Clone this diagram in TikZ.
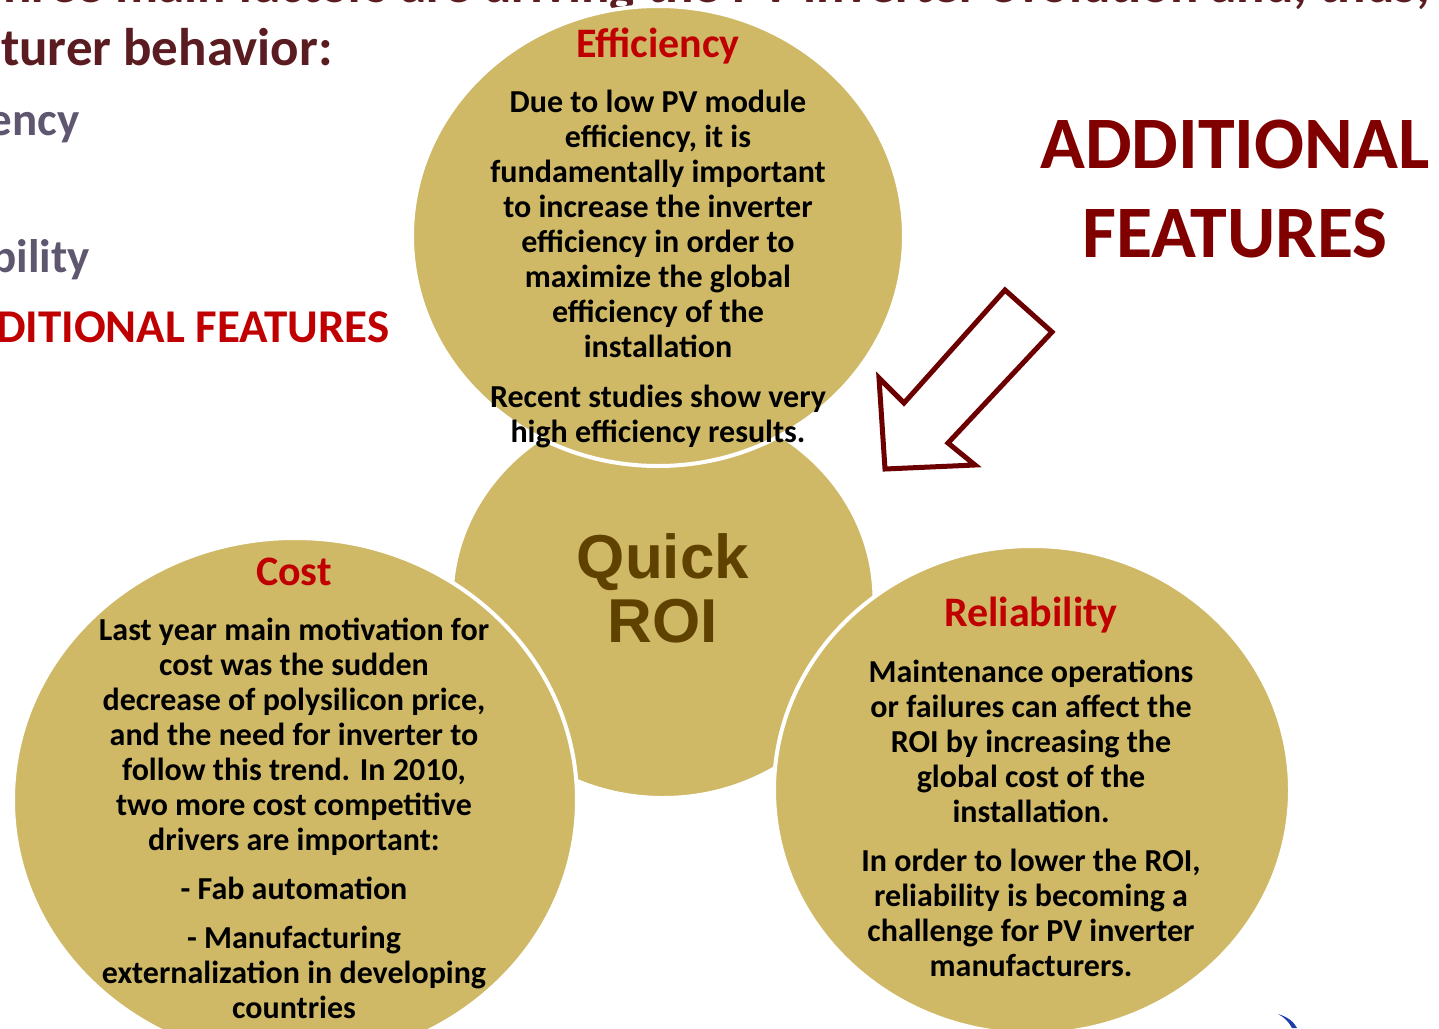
\documentclass[tikz,border=0pt]{standalone}
\usepackage{fontspec}
\setmainfont{Carlito}
\newfontfamily\roifont{Liberation Sans}
\usetikzlibrary{shapes.geometric}
\definecolor{gold}{RGB}{207,185,103}
\definecolor{titlered}{RGB}{192,0,0}
\definecolor{darkred}{RGB}{128,0,0}
\definecolor{arrowred}{RGB}{108,0,0}
\definecolor{roibrown}{RGB}{96,66,0}
\definecolor{slidemaroon}{RGB}{90,28,32}
\definecolor{greypurple}{RGB}{95,86,112}
\definecolor{logoblue}{RGB}{30,60,170}

\begin{document}
\begin{tikzpicture}[x=0.5pt,y=-0.5pt,
		ball/.style={ellipse, fill=gold, draw=white, line width=2pt, inner sep=0pt},
		heading/.style={font=\fontsize{21}{25}\selectfont\bfseries, text=titlered, inner sep=0pt, anchor=base},
		body/.style={font=\fontsize{16}{17.5}\selectfont\bfseries, align=center, inner sep=0pt, anchor=north},
		slide/.style={font=\fontsize{26.5}{30}\selectfont\bfseries, text=slidemaroon, inner sep=0pt, anchor=base east},
		item/.style={font=\fontsize{23.5}{28}\selectfont\bfseries, inner sep=0pt, anchor=base east}]
		\useasboundingbox (0,0) rectangle (1439,1028);
		\clip (0,0) rectangle (1439,1028);
\par
\node (line0) [slide] at (1430,3) {Three main factors are driving the PV inverter evolution and, thus,};
		\node (line1) [slide] at (333,65) {the manufacturer behavior:};
		\node (itemeff) [item, text=greypurple] at (80,135) {Efficiency};
		\node (itemrel) [item, text=greypurple] at (90,272) {Reliability};
		\node (itemadd) [item, text=titlered] at (390,342) {ADDITIONAL FEATURES};
\par
\node (roi) [ball, minimum width=211.5pt, minimum height=198pt] at (663,600) {};
		\node (eff) [ball, minimum width=246pt, minimum height=230pt] at (658,236) {};
		\node (cost) [ball, minimum width=282pt, minimum height=262pt] at (295,800) {};
		\node (rel) [ball, minimum width=258pt, minimum height=244pt] at (1032,790) {};
\par
\node (efftitle) [heading] at (658,57) {Efficiency};
		\node (efftext) [body] at (658,89.5) {Due to low PV module\\ efficiency, it is\\ fundamentally important\\ to increase the inverter\\ efficiency in order to\\ maximize the global\\ efficiency of the\\ installation\\[7.5pt] Recent studies show very\\ high efficiency results.};
\par
\node (costtitle) [heading] at (294,585) {Cost};
		\node (costtext) [body] at (294,617.5) {Last year main motivation for\\ cost was the sudden\\ decrease of polysilicon price,\\ and the need for inverter to\\ follow this trend. In 2010,\\ two more cost competitive\\ drivers are important:\\[7pt] - Fab automation\\[7pt] - Manufacturing\\ externalization in developing\\ countries};
\par
\node (reltitle) [heading] at (1031,626) {Reliability};
		\node (reltext) [body] at (1031,660) {Maintenance operations\\ or failures can affect the\\ ROI by increasing the\\ global cost of the\\ installation.\\[7pt] In order to lower the ROI,\\ reliability is becoming a\\ challenge for PV inverter\\ manufacturers.};
\par
\node (roitext) [font=\roifont\bfseries\fontsize{31}{32}\selectfont, text=roibrown, align=center, inner sep=0pt, anchor=north] at (663,533) {Quick\\ ROI};
\par
\node (addtext) [font=\fontsize{37}{44.5}\selectfont\bfseries, text=darkred, align=center, inner sep=0pt, anchor=north] at (1235,120) {ADDITIONAL\\ FEATURES};
\par
\draw[arrowred, line width=2.5pt, fill=white] (1005,290) -- (1052,332) -- (948,443) -- (975,465) -- (885,469) -- (879,378) -- (904,403) -- cycle;
\par
\fill[logoblue] (1278,1014) .. controls (1288,1017) and (1294,1022) .. (1297,1028) -- (1292,1028) .. controls (1289,1022) and (1284,1017) .. (1278,1014);
	\end{tikzpicture}
\end{document}
